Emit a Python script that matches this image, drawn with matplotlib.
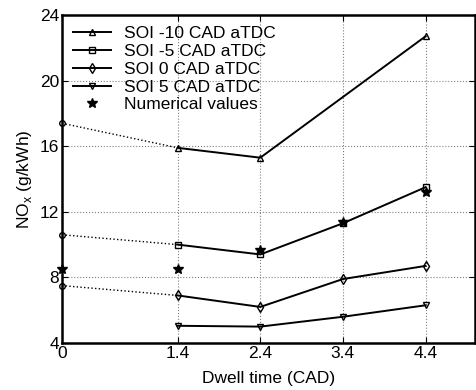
import matplotlib
matplotlib.use("Agg")
import matplotlib.pyplot as plt

plt.rcParams['font.family'] = ['Liberation Sans', 'DejaVu Sans']

# dwell times
dwell = [1.4, 2.4, 3.4, 4.4]
soi_m10 = [15.9, 15.3, None, 22.7]
soi_m5 = [10.0, 9.4, 11.3, 13.5]
soi_0 = [6.9, 6.2, 7.9, 8.7]
soi_5 = [5.05, 5.0, 5.6, 6.3]

# single injection (dwell 0) values
zero_m10 = 17.4
zero_m5 = 10.6
zero_0 = 7.5

num_x = [0, 1.4, 2.4, 3.4, 4.4]
num_y = [8.5, 8.5, 9.7, 11.4, 13.2]

fig = plt.figure(figsize=(4.77, 3.9), dpi=100)
ax = fig.add_axes([0.130, 0.1205, 0.866, 0.841])

x10 = [x for x, v in zip(dwell, soi_m10) if v is not None]
y10 = [v for v in soi_m10 if v is not None]
ax.plot(x10, y10, 'k-', marker='^', mfc='none', ms=5, lw=1.4, label='SOI -10 CAD aTDC')
ax.plot(dwell, soi_m5, 'k-', marker='s', mfc='none', ms=4, lw=1.4, label='SOI -5 CAD aTDC')
ax.plot(dwell, soi_0, 'k-', marker='d', mfc='none', ms=5, lw=1.4, label='SOI 0 CAD aTDC')
ax.plot(dwell, soi_5, 'k-', marker='v', mfc='none', ms=5, lw=1.4, label='SOI 5 CAD aTDC')
ax.plot(num_x, num_y, 'k*', ms=7, ls='none', clip_on=False, zorder=5,
        label='Numerical values')

# dotted links to dwell 0
for z, first in [(zero_m10, soi_m10[0]), (zero_m5, soi_m5[0]), (zero_0, soi_0[0])]:
    ax.plot([0, dwell[0]], [z, first], 'k:', lw=1)
    ax.plot([0], [z], 'ko', mfc='none', ms=4, clip_on=False, zorder=5)

ax.set_xlim(0, 5)
ax.set_ylim(4, 24)
ax.set_xticks([0] + dwell)
ax.set_xticklabels(['0', '1.4', '2.4', '3.4', '4.4'])
ax.set_yticks([4, 8, 12, 16, 20, 24])
ax.grid(True, color='gray', ls=':', lw=0.8)
ax.tick_params(direction='in', top=True, right=True, labelsize=12.5, length=4, pad=2)
for s in ax.spines.values():
    s.set_linewidth(1.8)

ax.set_xlabel('Dwell time (CAD)', fontsize=12.5, labelpad=7)
ax.set_ylabel('NO$_\\mathregular{x}$ (g/kWh)', fontsize=12.5, labelpad=4)

leg = ax.legend(loc='upper left', frameon=False, fontsize=12.5, handlelength=2.2,
                labelspacing=0.15, borderaxespad=0.25, handletextpad=0.7)

fig.savefig('out.png', dpi=100)
